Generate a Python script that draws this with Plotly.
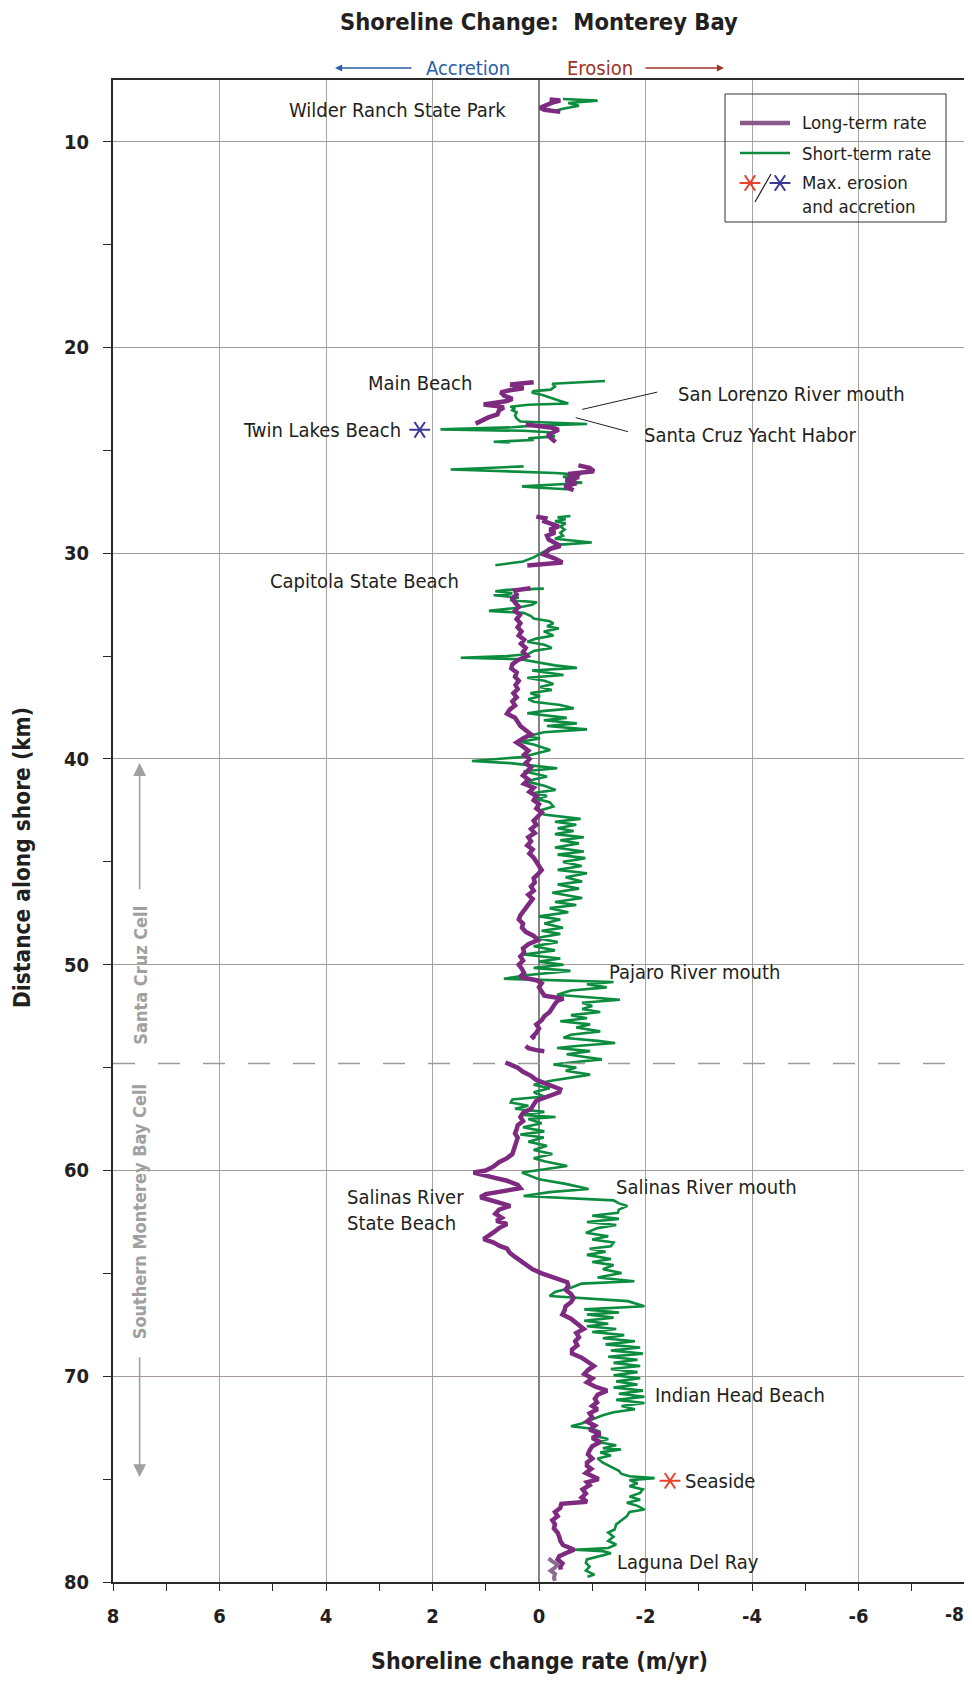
import plotly.graph_objects as go

# ---------------- data ----------------
# short-term rate (m/yr), (distance km, rate); (None, None) = gap
short_term_pts = [
    (7.92, -0.45), (8.0, -1.1), (8.12, -0.55), (8.25, -0.75), (8.4, -0.45), (8.5, -0.3), (None, None),
    (21.63, -1.24), (21.68, -0.9), (21.72, -0.45), (21.76, -0.25), (21.9, -0.3), (22.05, -0.22), (22.12, 0.1),
    (22.2, 0.13), (22.3, -0.05), (22.45, -0.25), (22.6, -0.4), (22.72, -0.55), (22.78, 0.2), (22.88, 0.54),
    (22.95, 0.45), (23.05, 0.5), (23.15, 0.42), (23.3, 0.45), (23.45, 0.42), (23.6, 0.35), (23.72, -0.9),
    (23.8, 0.1), (23.88, 0.5), (23.98, 1.85), (24.05, 0.3), (24.12, -0.2), (24.22, -0.15), (24.32, -0.3),
    (24.42, 0.2), (24.5, 0.1), (24.58, 0.85), (24.62, 0.55), (None, None),
    (25.78, 0.29), (25.85, 0.9), (25.93, 1.66), (26.0, 0.8), (26.1, -0.3), (26.18, -0.78), (26.28, -0.45),
    (26.4, -0.7), (26.5, -0.5), (26.57, -0.81), (26.65, -0.4), (26.75, 0.32), (26.82, 0.0), (26.9, -0.62),
    (None, None),
    (28.19, -0.59), (28.25, -0.35), (28.35, -0.5), (28.45, -0.3), (28.55, -0.5), (28.7, -0.4), (28.85, -0.48),
    (29.0, -0.4), (29.15, -0.45), (29.3, -0.3), (29.48, -0.99), (29.58, -0.4), (29.7, -0.25), (29.85, -0.15),
    (30.0, -0.05), (30.2, 0.1), (30.4, 0.3), (30.58, 0.82), (None, None),
    (31.72, -0.09), (31.78, 0.6), (31.85, 0.82), (31.95, 0.5), (32.04, 0.85), (32.15, 0.38), (32.28, 0.54),
    (32.38, 0.04), (32.5, 0.13), (32.65, 0.4), (32.8, 0.94), (32.9, 0.29), (33.05, 0.15), (33.17, 0.1),
    (33.3, -0.2), (33.41, -0.27), (33.55, -0.15), (33.66, -0.37), (33.8, -0.09), (33.9, -0.2), (34.0, -0.27),
    (34.15, 0.05), (34.3, 0.22), (34.45, -0.1), (34.6, -0.24), (34.75, 0.1), (34.9, 0.2), (35.0, 0.6),
    (35.08, 1.47), (35.15, 0.35), (35.3, 0.04), (35.45, -0.3), (35.57, -0.71), (35.7, 0.13), (35.82, -0.2),
    (35.92, -0.46), (36.05, 0.22), (36.2, -0.1), (36.35, -0.27), (36.5, -0.02), (36.65, -0.24), (36.8, 0.16),
    (36.95, -0.02), (37.1, 0.2), (37.22, 0.1), (37.38, -0.4), (37.54, -0.65), (37.66, -0.1), (37.78, 0.22),
    (37.9, -0.2), (38.0, -0.52), (38.12, -0.09), (38.27, -0.71), (38.4, -0.15), (38.56, -0.9), (38.7, -0.09),
    (38.9, 0.22), (39.0, -0.02), (39.16, 0.35), (39.3, 0.1), (39.45, -0.1), (39.56, -0.21), (39.72, 0.04),
    (39.9, 0.3), (40.1, 1.26), (40.2, 0.54), (40.3, 0.2), (40.45, -0.34), (40.6, 0.29), (40.7, 0.1),
    (40.85, -0.15), (41.0, 0.1), (41.1, 0.22), (41.3, -0.1), (41.5, -0.31), (41.65, 0.1), (41.8, -0.15),
    (41.95, 0.04), (42.1, -0.2), (42.31, -0.27), (42.5, -0.02), (42.7, -0.09), (42.91, -0.78), (43.05, -0.3),
    (43.2, -0.7), (43.37, -0.35), (43.5, -0.65), (43.65, -0.3), (43.8, -0.84), (43.95, -0.4), (44.1, -0.75),
    (44.3, -0.3), (44.5, -0.84), (44.65, -0.35), (44.82, -0.87), (45.0, -0.45), (45.2, -0.8), (45.39, -0.35),
    (45.55, -0.9), (45.75, -0.5), (45.95, -0.81), (46.1, -0.35), (46.3, -0.75), (46.5, -0.25), (46.76, -0.81),
    (46.95, -0.3), (47.1, -0.7), (47.25, -0.2), (47.45, -0.55), (47.65, 0.0), (47.8, -0.4), (48.0, -0.1),
    (48.2, -0.45), (48.35, -0.05), (48.5, -0.4), (48.7, 0.05), (48.9, -0.35), (49.1, 0.1), (49.3, -0.3),
    (49.5, 0.29), (49.7, -0.4), (49.85, 0.0), (50.0, -0.46), (50.15, 0.1), (50.3, -0.59), (50.5, 0.2),
    (50.68, 0.66), (50.84, -1.4), (50.95, -0.9), (51.1, -1.27), (51.25, -0.6), (51.46, -0.34), (51.6, -1.1),
    (51.7, -1.52), (51.85, -0.81), (52.0, -1.0), (52.15, -0.81), (52.3, -1.15), (52.45, -0.6), (52.6, -0.9),
    (52.75, -0.4), (52.9, -0.96), (53.05, -0.7), (53.24, -1.15), (53.4, -0.6), (53.55, -0.46), (53.7, -1.1),
    (53.8, -1.43), (53.95, -0.7), (54.05, -0.34), (54.2, -0.96), (54.35, -0.52), (54.5, -0.9), (54.6, -1.18),
    (54.75, -0.6), (54.85, -0.27), (55.0, -0.7), (55.15, -0.5), (55.34, -0.96), (55.5, -0.6), (55.65, -0.2),
    (55.83, 0.1), (56.0, -0.2), (56.2, 0.1), (56.4, -0.1), (56.55, 0.5), (56.7, 0.53), (56.85, 0.2),
    (57.0, 0.45), (57.15, -0.1), (57.3, 0.3), (57.4, -0.31), (57.5, 0.2), (57.7, -0.05), (57.9, 0.3),
    (58.1, -0.1), (58.25, 0.35), (58.4, -0.09), (58.6, 0.2), (58.8, -0.15), (59.0, 0.1), (59.2, -0.25),
    (59.4, 0.1), (59.55, -0.1), (59.78, -0.53), (60.1, 0.32), (60.43, 0.0), (60.65, -0.5), (60.9, -0.93),
    (61.05, -0.2), (61.24, 0.29), (61.45, -1.4), (61.6, -1.5), (61.72, -1.66), (61.9, -1.5), (62.06, -1.48),
    (62.2, -1.0), (62.35, -1.5), (62.5, -0.9), (62.65, -1.45), (62.8, -1.1), (63.03, -0.88), (63.2, -1.3),
    (63.35, -1.0), (63.5, -1.4), (63.68, -1.35), (63.8, -0.95), (63.95, -1.25), (64.1, -0.9), (64.3, -1.35),
    (64.45, -1.0), (64.6, -1.4), (64.8, -1.2), (64.98, -1.55), (65.2, -1.1), (65.38, -1.79), (65.5, -0.8),
    (65.7, -0.6), (65.9, -0.3), (66.1, -0.2), (66.35, -1.67), (66.6, -1.98), (66.75, -0.85), (66.9, -1.5),
    (67.0, -0.9), (67.15, -1.4), (67.3, -0.85), (67.45, -1.3), (67.57, -0.9), (67.7, -1.45), (67.85, -1.0),
    (68.0, -1.6), (68.15, -1.2), (68.3, -1.8), (68.45, -1.25), (68.6, -1.9), (68.75, -1.35), (68.9, -1.95),
    (69.05, -1.3), (69.2, -1.85), (69.35, -1.4), (69.5, -1.9), (69.65, -1.35), (69.8, -1.85), (69.95, -1.4),
    (70.1, -1.9), (70.25, -1.45), (70.4, -1.85), (70.55, -1.4), (70.7, -1.95), (70.85, -1.5), (71.0, -1.98),
    (71.15, -1.45), (71.3, -1.98), (71.45, -1.55), (71.6, -1.8), (71.75, -1.4), (71.9, -1.2), (72.1, -1.0),
    (72.3, -0.8), (72.43, -0.6), (72.55, -1.0), (72.7, -1.15), (72.9, -1.05), (73.05, -1.3), (73.2, -1.1),
    (73.35, -1.45), (73.5, -1.2), (73.56, -1.54), (73.7, -1.15), (73.85, -1.35), (74.0, -1.1), (74.2, -1.2),
    (74.4, -1.35), (74.6, -1.5), (74.75, -1.55), (74.86, -1.7), (74.95, -2.17), (75.05, -1.7), (75.2, -1.85),
    (75.35, -1.7), (75.5, -1.95), (75.67, -1.9), (75.85, -1.7), (76.0, -1.9), (76.15, -1.65), (76.3, -1.85),
    (76.48, -1.98), (76.6, -1.7), (76.8, -1.65), (77.0, -1.55), (77.2, -1.45), (77.45, -1.42), (77.6, -1.3),
    (77.8, -1.4), (78.0, -1.3), (78.18, -1.45), (78.35, -1.3), (78.43, -0.66), (78.5, -1.2), (78.6, -1.35),
    (78.75, -1.1), (78.9, -0.9), (79.07, -0.88), (79.25, -0.95), (79.45, -0.88), (79.64, -1.04), (79.75, -0.91),
]

# long-term rate (m/yr)
long_term_pts = [
    (7.95, -0.2), (8.0, -0.4), (8.1, -0.25), (8.35, -0.02), (8.45, -0.1), (8.55, -0.4), (None, None),
    (21.69, 0.1), (21.75, 0.3), (21.8, 0.54), (21.9, 0.4), (21.98, 0.29), (22.08, 0.55), (22.18, 0.72),
    (22.35, 0.65), (22.5, 0.5), (22.6, 0.6), (22.77, 1.04), (22.85, 0.8), (22.92, 0.66), (23.05, 0.75),
    (23.25, 0.78), (23.4, 0.95), (23.55, 1.05), (23.7, 1.19), (None, None),
    (23.74, 0.25), (23.8, 0.0), (23.9, -0.25), (24.0, -0.37), (24.1, -0.3), (24.2, -0.2), (24.3, -0.18),
    (24.45, -0.25), (24.6, -0.31), (None, None),
    (25.73, -0.74), (25.85, -0.95), (26.02, -1.03), (26.15, -0.55), (26.3, -0.75), (26.45, -0.5),
    (26.6, -0.7), (26.75, -0.48), (26.94, -0.65), (None, None),
    (28.22, 0.05), (28.3, -0.12), (28.45, -0.1), (28.6, -0.25), (28.7, -0.37), (28.85, -0.2), (29.0, -0.3),
    (29.15, -0.15), (29.33, -0.18), (29.5, -0.3), (29.65, -0.4), (29.8, -0.2), (30.06, -0.09), (30.26, -0.3),
    (30.45, -0.44), (30.6, 0.22), (None, None),
    (31.7, 0.16), (31.8, 0.45), (32.0, 0.42), (32.2, 0.5), (32.4, 0.45), (32.6, 0.38), (32.8, 0.45),
    (33.0, 0.36), (33.2, 0.42), (33.4, 0.35), (33.6, 0.4), (33.8, 0.33), (34.0, 0.38), (34.2, 0.28),
    (34.4, 0.34), (34.6, 0.25), (34.8, 0.3), (35.0, 0.22), (35.2, 0.4), (35.4, 0.5), (35.6, 0.52),
    (35.8, 0.42), (36.0, 0.45), (36.2, 0.38), (36.4, 0.44), (36.6, 0.4), (36.8, 0.48), (37.0, 0.42),
    (37.2, 0.5), (37.4, 0.45), (37.6, 0.55), (37.8, 0.6), (38.0, 0.45), (38.2, 0.4), (38.4, 0.35),
    (38.6, 0.25), (38.8, 0.15), (39.0, 0.3), (39.2, 0.42), (39.4, 0.3), (39.6, 0.2), (39.8, 0.28),
    (40.0, 0.18), (40.2, 0.25), (40.4, 0.15), (40.6, 0.22), (40.8, 0.3), (41.0, 0.2), (41.2, 0.28),
    (41.4, 0.1), (41.6, 0.18), (41.8, 0.05), (42.0, 0.1), (42.2, 0.0), (42.4, 0.05), (42.6, -0.05),
    (42.8, 0.02), (43.0, 0.1), (43.2, 0.05), (43.4, 0.15), (43.6, 0.08), (43.8, 0.2), (44.0, 0.15),
    (44.2, 0.22), (44.4, 0.12), (44.6, 0.18), (44.8, 0.1), (45.0, 0.05), (45.2, 0.0), (45.4, -0.05),
    (45.6, 0.02), (45.8, 0.1), (46.0, 0.08), (46.2, 0.15), (46.4, 0.1), (46.6, 0.2), (46.8, 0.12),
    (47.0, 0.18), (47.2, 0.25), (47.4, 0.3), (47.6, 0.35), (47.8, 0.38), (48.0, 0.3), (48.2, 0.32),
    (48.4, 0.25), (48.6, 0.1), (48.8, 0.02), (49.0, 0.2), (49.2, 0.3), (49.4, 0.28), (49.6, 0.35),
    (49.8, 0.3), (50.0, 0.38), (50.2, 0.32), (50.4, 0.28), (50.6, 0.36), (50.75, 0.05), (50.9, -0.05),
    (51.1, 0.0), (51.3, -0.05), (51.5, -0.1), (51.65, -0.46), (51.75, -0.35), (51.9, -0.3), (52.1, -0.25),
    (52.3, -0.2), (52.5, -0.1), (52.7, -0.05), (52.9, 0.05), (53.1, 0.0), (53.3, 0.05), (53.5, 0.12),
    (53.6, 0.08), (None, None),
    (53.95, 0.25), (54.05, 0.2), (54.15, 0.05), (54.2, -0.1), (None, None),
    (54.75, 0.63), (54.9, 0.5), (55.0, 0.4), (55.2, 0.3), (55.4, 0.15), (55.6, 0.05), (55.75, -0.1),
    (55.9, -0.3), (56.05, -0.4), (56.2, -0.38), (56.35, -0.2), (56.5, -0.05), (56.6, 0.05), (56.8, 0.1),
    (57.0, 0.15), (57.2, 0.3), (57.4, 0.35), (57.6, 0.3), (57.8, 0.4), (58.0, 0.42), (58.2, 0.45),
    (58.4, 0.4), (58.6, 0.42), (58.8, 0.45), (59.0, 0.48), (59.2, 0.5), (59.4, 0.6), (59.6, 0.75),
    (59.8, 0.85), (60.0, 1.0), (60.1, 1.23), (60.2, 1.1), (60.35, 0.85), (60.5, 0.6), (60.7, 0.4),
    (60.86, 0.35), (61.0, 0.7), (61.15, 1.0), (61.3, 1.1), (61.5, 0.8), (61.72, 0.54), (61.9, 0.75),
    (62.1, 0.82), (62.3, 0.7), (62.45, 0.8), (62.6, 0.6), (62.8, 0.75), (63.0, 0.85), (63.2, 0.95),
    (63.34, 1.04), (63.5, 0.85), (63.65, 0.75), (63.8, 0.6), (64.0, 0.55), (64.2, 0.45), (64.4, 0.35),
    (64.6, 0.25), (64.8, 0.12), (65.0, -0.05), (65.1, -0.15), (65.25, -0.35), (65.43, -0.53), (65.6, -0.55),
    (65.8, -0.5), (66.0, -0.6), (66.2, -0.65), (66.4, -0.6), (66.6, -0.5), (66.8, -0.48), (67.0, -0.44),
    (67.2, -0.6), (67.4, -0.7), (67.55, -0.75), (67.7, -0.84), (67.9, -0.7), (68.1, -0.75), (68.3, -0.68),
    (68.5, -0.72), (68.7, -0.62), (68.9, -0.62), (69.1, -0.8), (69.3, -0.9), (69.5, -1.03), (69.7, -0.92),
    (69.9, -0.85), (70.1, -1.0), (70.3, -0.9), (70.5, -1.05), (70.7, -1.28), (70.9, -1.1), (71.1, -1.05),
    (71.27, -1.09), (71.45, -1.0), (71.6, -1.1), (71.8, -0.95), (72.0, -1.0), (72.2, -0.9), (72.4, -1.05),
    (72.6, -0.95), (72.8, -1.15), (73.0, -1.0), (73.2, -1.15), (73.4, -1.0), (73.6, -0.95), (73.8, -0.92),
    (74.0, -1.0), (74.2, -0.9), (74.35, -0.9), (74.5, -0.98), (74.7, -0.88), (74.85, -1.0), (75.0, -1.12),
    (75.15, -0.9), (75.3, -0.95), (75.5, -0.82), (75.7, -0.88), (75.9, -0.8), (76.1, -0.9), (76.2, -0.42),
    (76.4, -0.4), (76.6, -0.3), (76.8, -0.35), (77.0, -0.25), (77.2, -0.3), (77.4, -0.28), (77.6, -0.35),
    (77.8, -0.38), (78.0, -0.4), (78.2, -0.45), (78.43, -0.66), (78.6, -0.5), (78.75, -0.38), (78.9, -0.35),
    (79.1, -0.44), (79.25, -0.4), (79.4, -0.41),
]

# separately shaded long-term segment at the south end
long_term_tail_pts = [
    (78.85, -0.18), (79.0, -0.25), (79.15, -0.35), (79.3, -0.3), (79.45, -0.22), (79.6, -0.3), (79.8, -0.28),
    (79.95, -0.3),
]

max_erosion_km, max_erosion_rate = [75.08], [-2.46]
max_accretion_km, max_accretion_rate = [24.0], [2.24]

place_names = ["Wilder Ranch State Park", "Main Beach", "Twin Lakes Beach", "San Lorenzo River mouth",
               "Santa Cruz Yacht Habor", "Capitola State Beach", "Pajaro River mouth",
               "Salinas River<br>State Beach", "Salinas River mouth", "Indian Head Beach", "Seaside",
               "Laguna Del Ray"]
place_km = [8.44, 21.75, 24.02, 22.27, 24.23, 31.35, 50.33, 61.9, 60.78, 70.9, 75.08, 79.05]
place_rate = [0.58, 1.23, 2.55, -2.58, -1.94, 1.47, -1.27, 3.65, -1.40, -2.14, -2.71, -1.42]
place_anchor = ["right", "right", "right", "left", "left", "right", "left", "left", "left", "left", "left",
                "left"]

# leader lines (rate0, km0, rate1, km1)
leader_lines = [(-0.81, 23.01, -2.22, 22.17), (-0.69, 23.41, -1.67, 24.09)]

cell_boundary_km = 54.8
x_tick_vals = [8, 6, 4, 2, 0, -2, -4, -6, -8]
x_tick_text = ["8", "6", "4", "2", "0", "-2", "-4", "-6", ""]   # "-8" drawn right-aligned below
y_tick_vals = [10, 20, 30, 40, 50, 60, 70, 80]

# ---------------- styling ----------------
FONT = "Liberation Sans Narrow, Arial Narrow, DejaVu Sans Condensed, sans-serif"
TXT = "#231f20"
PURPLE = "#7e2a80"
GREEN = "#0b8c3e"
RED = "#e8412c"
BLUE = "#3a3a96"

OFF = 8                      # page body margin
W, H = 972 - OFF, 1683 - 2 * OFF
L, R, T, B = 105, 7, 72, 93
PW, PH = W - L - R, H - T - B


def px(X):                   # page x -> paper
    return (X - OFF - L) / PW


def py(Y):                   # page y -> paper
    return (H - B - (Y - OFF)) / PH


def split(pts):
    return [p[0] for p in pts], [p[1] for p in pts]


s_km, s_rate = split(short_term_pts)
l_km, l_rate = split(long_term_pts)
t_km, t_rate = split(long_term_tail_pts)

fig = go.Figure()
fig.add_trace(go.Scatter(x=s_rate, y=s_km, mode="lines", line=dict(color=GREEN, width=2.6),
                         connectgaps=False, showlegend=False, hoverinfo="skip"))
fig.add_trace(go.Scatter(x=l_rate, y=l_km, mode="lines", line=dict(color=PURPLE, width=4.5),
                         connectgaps=False, showlegend=False, hoverinfo="skip"))
fig.add_trace(go.Scatter(x=t_rate, y=t_km, mode="lines", line=dict(color="#8e6a90", width=4),
                         showlegend=False, hoverinfo="skip"))

for sym in ["y-left-open", "y-right-open"]:
    fig.add_trace(go.Scatter(x=max_erosion_rate, y=max_erosion_km, mode="markers",
                             marker=dict(symbol=sym, size=13, color=RED, line=dict(color=RED, width=2)),
                             showlegend=False, hoverinfo="skip"))
    fig.add_trace(go.Scatter(x=max_accretion_rate, y=max_accretion_km, mode="markers",
                             marker=dict(symbol=sym, size=13, color=BLUE, line=dict(color=BLUE, width=2)),
                             showlegend=False, hoverinfo="skip"))

# legend asterisks on a paper-like overlay axis
for sym in ["y-left-open", "y-right-open"]:
    fig.add_trace(go.Scatter(x=[px(750), px(780)], y=[py(183), py(183)], xaxis="x2", yaxis="y2",
                             mode="markers", cliponaxis=False,
                             marker=dict(symbol=sym, size=13, color=[RED, BLUE],
                                         line=dict(color=[RED, BLUE], width=2)),
                             showlegend=False, hoverinfo="skip"))

shapes = []
# cell boundary
shapes.append(dict(type="line", xref="paper", yref="y", x0=0, x1=1, y0=cell_boundary_km, y1=cell_boundary_km,
                   line=dict(color="#9a9a9a", width=1.5, dash="22px,23px"), layer="above"))
for x0, y0, x1, y1 in leader_lines:
    shapes.append(dict(type="line", xref="x", yref="y", x0=x0, y0=y0, x1=x1, y1=y1,
                       line=dict(color=TXT, width=1)))
# legend box
shapes.append(dict(type="rect", xref="paper", yref="paper", x0=px(725), x1=px(946), y0=py(222), y1=py(94),
                   line=dict(color="#333333", width=1), fillcolor="rgba(0,0,0,0)", layer="above"))
shapes.append(dict(type="line", xref="paper", yref="paper", x0=px(740), x1=px(790), y0=py(123), y1=py(123),
                   line=dict(color="#8a5a8c", width=4.5), layer="above"))
shapes.append(dict(type="line", xref="paper", yref="paper", x0=px(740), x1=px(790), y0=py(153), y1=py(153),
                   line=dict(color=GREEN, width=2.5), layer="above"))
shapes.append(dict(type="line", xref="paper", yref="paper", x0=px(771), x1=px(755), y0=py(174), y1=py(202),
                   line=dict(color=TXT, width=1.2), layer="above"))


def pann(text, X, Y, size, color=TXT, xa="center", angle=0):
    return dict(text=text, xref="paper", yref="paper", x=px(X), y=py(Y), xanchor=xa, yanchor="middle",
                showarrow=False, textangle=angle, font=dict(family=FONT, size=size, color=color))


ann = []
ann.append(pann("<b>Shoreline Change:  Monterey Bay</b>", 538.5, 22, 23.5))
ann.append(pann("<b>Shoreline change rate (m/yr)</b>", 539, 1661, 23))
ann.append(pann("<b>Distance along shore (km)</b>", 22, 858, 22.5, angle=-90))
ann.append(pann("<b>-8</b>", 966, 1614, 19, xa="right"))
# accretion / erosion
ann.append(pann("Accretion", 468, 68, 20, color="#2a5fa8"))
ann.append(pann("Erosion", 600, 68, 20, color="#9c3426"))
ann.append(dict(text="", xref="paper", yref="paper", x=px(335), y=py(68), ax=78, ay=0, showarrow=True,
                arrowhead=2, arrowsize=1.1, arrowwidth=1.3, arrowcolor="#2a5fa8"))
ann.append(dict(text="", xref="paper", yref="paper", x=px(724), y=py(68), ax=-80, ay=0, showarrow=True,
                arrowhead=2, arrowsize=1.1, arrowwidth=1.3, arrowcolor="#9c3426"))
# legend texts
for txt, Y in [("Long-term rate", 123), ("Short-term rate", 153), ("Max. erosion", 183), ("and accretion", 206)]:
    ann.append(pann(txt, 800, Y, 18.5, xa="left"))
# place names
for name, km, rate, anc in zip(place_names, place_km, place_rate, place_anchor):
    ann.append(dict(text=name, x=rate, y=km, xref="x", yref="y", xanchor=anc, yanchor="middle", align="left",
                    showarrow=False, font=dict(family=FONT, size=20, color=TXT)))
# littoral cell labels and arrows
GREY = "#a0a0a0"
ann.append(dict(text="<b>Santa Cruz Cell</b>", x=7.5, y=50.5, xref="x", yref="y", textangle=-90,
                xanchor="center", yanchor="middle",
                showarrow=False, font=dict(family=FONT, size=18, color=GREY)))
ann.append(dict(text="<b>Southern Monterey Bay Cell</b>", x=7.5, y=62.0, xref="x", yref="y", textangle=-90,
                xanchor="center", yanchor="middle",
                showarrow=False, font=dict(family=FONT, size=18, color=GREY)))
ann.append(dict(text="", x=7.5, y=40.2, ax=7.5, ay=46.4, xref="x", yref="y", axref="x", ayref="y",
                showarrow=True, arrowhead=2, arrowsize=1.6, arrowwidth=1.6, arrowcolor=GREY))
ann.append(dict(text="", x=7.5, y=74.9, ax=7.5, ay=69.0, xref="x", yref="y", axref="x", ayref="y",
                showarrow=True, arrowhead=2, arrowsize=1.6, arrowwidth=1.6, arrowcolor=GREY))

AX = "#2a2a2a"
fig.update_layout(
    template="none",
    width=W, height=H, margin=dict(l=L, r=R, t=T, b=B, pad=0), paper_bgcolor="white", plot_bgcolor="white",
    showlegend=False, shapes=shapes, annotations=ann,
    xaxis=dict(range=[8, -8], tickmode="array", tickvals=x_tick_vals, ticktext=x_tick_text, showgrid=True,
               gridcolor="#aaa5a2", gridwidth=1.2, zeroline=True, zerolinecolor="#838383", zerolinewidth=2.2,
               showline=True, linecolor=AX, linewidth=2, mirror=True, ticks="outside", ticklen=7, tickwidth=1.3,
               tickcolor=AX, automargin=False, ticklabeloverflow="allow",
               minor=dict(dtick=1, tick0=0, ticks="outside", ticklen=7, tickwidth=1.3, tickcolor=AX,
                          showgrid=False),
               tickfont=dict(family=FONT, size=20, color=TXT, weight="bold"), ticklabelstandoff=8),
    yaxis=dict(range=[80, 7], tickmode="array", tickvals=y_tick_vals, showgrid=True, gridcolor="#a69a95",
               gridwidth=1, zeroline=False, showline=True, linecolor=AX, linewidth=2, ticks="outside", ticklen=8,
               tickwidth=1.3, tickcolor=AX, automargin=False, ticklabeloverflow="allow",
               minor=dict(dtick=5, tick0=0, ticks="outside", ticklen=8, tickwidth=1.3, tickcolor=AX,
                          showgrid=False),
               tickfont=dict(family=FONT, size=20, color=TXT, weight="bold"), ticklabelstandoff=10),
    xaxis2=dict(overlaying="x", range=[0, 1], visible=False, fixedrange=True, automargin=False),
    yaxis2=dict(overlaying="y", range=[0, 1], visible=False, fixedrange=True, automargin=False),
)

fig.write_html("out.html")
